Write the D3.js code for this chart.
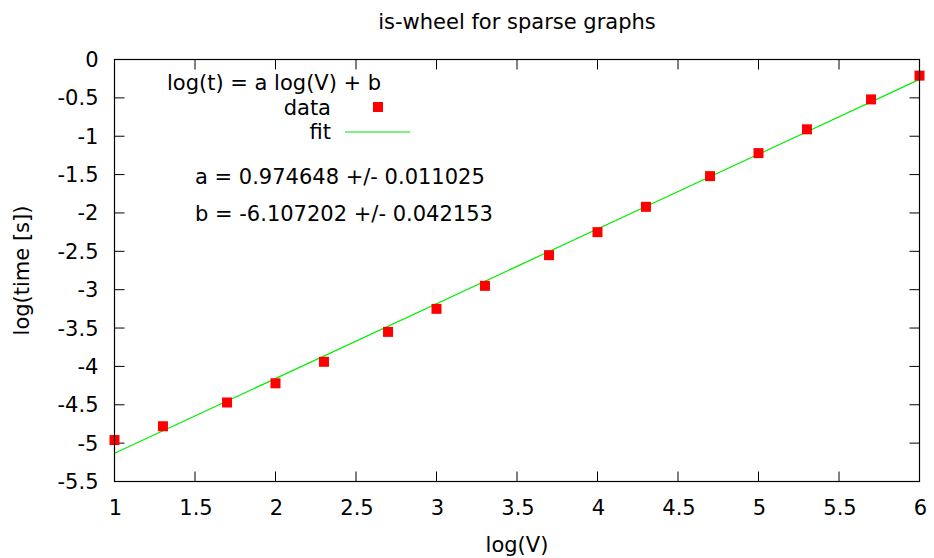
<!DOCTYPE html>
<html>
<head>
<meta charset="utf-8">
<script src="https://cdn.jsdelivr.net/npm/d3@7"></script>
<style>
  body { margin: 0; background: #fff; }
  text { font-family: "DejaVu Sans", sans-serif; fill: #000; }
</style>
</head>
<body>
<script>
// data
var logV = [1, 1.301, 1.699, 2, 2.301, 2.699, 3, 3.301, 3.699, 4, 4.301, 4.699, 5, 5.301, 5.699, 6];
var logT = [-4.96, -4.78, -4.47, -4.22, -3.94, -3.55, -3.25, -2.95, -2.55, -2.25, -1.92, -1.52, -1.22, -0.91, -0.52, -0.21];
var fitA = 0.974648, fitB = -6.107202;
var xTicks = [1, 1.5, 2, 2.5, 3, 3.5, 4, 4.5, 5, 5.5, 6];
var yTicks = [0, -0.5, -1, -1.5, -2, -2.5, -3, -3.5, -4, -4.5, -5, -5.5];

var W = 934, H = 558;
var m = {left: 114.5, right: 14.5, top: 59.5, bottom: 76.5};

var svg = d3.select('body').append('svg')
  .attr('width', W)
  .attr('height', H);

var x = d3.scaleLinear().domain([1, 6]).range([m.left, W - m.right]);
var y = d3.scaleLinear().domain([-5.5, 0]).range([H - m.bottom, m.top]);

var fs = 21;

// ticks, inward, mirrored
var tl = 10;
var ticks = svg.append('g').attr('stroke', '#000').attr('stroke-width', 1);
xTicks.forEach(function(t){
  ticks.append('line').attr('x1', x(t)).attr('x2', x(t)).attr('y1', y(-5.5)).attr('y2', y(-5.5) - tl);
  ticks.append('line').attr('x1', x(t)).attr('x2', x(t)).attr('y1', y(0)).attr('y2', y(0) + tl);
});
yTicks.forEach(function(t){
  ticks.append('line').attr('y1', y(t)).attr('y2', y(t)).attr('x1', x(1)).attr('x2', x(1) + tl);
  ticks.append('line').attr('y1', y(t)).attr('y2', y(t)).attr('x1', x(6)).attr('x2', x(6) - tl);
});

svg.selectAll('.xl').data(xTicks).enter().append('text')
  .attr('x', function(d){ return x(d) + 1; })
  .attr('y', y(-5.5) + 33.5)
  .attr('text-anchor', 'middle')
  .style('font-size', fs + 'px')
  .text(function(d){ return d; });

svg.selectAll('.yl').data(yTicks).enter().append('text')
  .attr('x', x(1) - 16)
  .attr('y', function(d){ return y(d) + 7.5; })
  .attr('text-anchor', 'end')
  .style('font-size', fs + 'px')
  .text(function(d){ return d; });

// fit line
svg.append('line')
  .attr('x1', x(1)).attr('y1', y(fitA * 1 + fitB))
  .attr('x2', x(6)).attr('y2', y(fitA * 6 + fitB))
  .attr('stroke', '#00ee00').attr('stroke-width', 1.2);

// data squares
var sq = 10;
svg.selectAll('.pt').data(logV).enter().append('rect')
  .attr('x', function(d){ return x(d) - sq / 2; })
  .attr('y', function(d, i){ return y(logT[i]) - sq / 2; })
  .attr('width', sq).attr('height', sq)
  .attr('fill', '#ff0000');

// frame
svg.append('rect')
  .attr('x', x(1)).attr('y', y(0))
  .attr('width', x(6) - x(1)).attr('height', y(-5.5) - y(0))
  .attr('fill', 'none').attr('stroke', '#000').attr('stroke-width', 1.2);

// key
svg.append('text').attr('x', 167).attr('y', 90).style('font-size', fs + 'px').text('log(t) = a log(V) + b');
svg.append('text').attr('x', 331).attr('y', 115).attr('text-anchor', 'end').style('font-size', fs + 'px').text('data');
svg.append('rect').attr('x', 378 - sq / 2).attr('y', 107 - sq / 2).attr('width', sq).attr('height', sq).attr('fill', '#ff0000');
svg.append('text').attr('x', 331).attr('y', 139).attr('text-anchor', 'end').style('font-size', fs + 'px').text('fit');
svg.append('line').attr('x1', 345).attr('x2', 410).attr('y1', 132).attr('y2', 132)
  .attr('stroke', '#80f080').attr('stroke-width', 2);

svg.append('text').attr('x', 195).attr('y', 184).style('font-size', fs + 'px').text('a = 0.974648 +/- 0.011025');
svg.append('text').attr('x', 195).attr('y', 221).style('font-size', fs + 'px').text('b = -6.107202 +/- 0.042153');

// titles
svg.append('text').attr('x', 517).attr('y', 29).attr('text-anchor', 'middle').style('font-size', fs + 'px').text('is-wheel for sparse graphs');
svg.append('text').attr('x', 517).attr('y', 552).attr('text-anchor', 'middle').style('font-size', fs + 'px').text('log(V)');
svg.append('text')
  .attr('transform', 'translate(29,' + ((y(0) + y(-5.5)) / 2) + ') rotate(-90)')
  .attr('text-anchor', 'middle')
  .style('font-size', fs + 'px')
  .text('log(time [s])');
</script>
</body>
</html>
